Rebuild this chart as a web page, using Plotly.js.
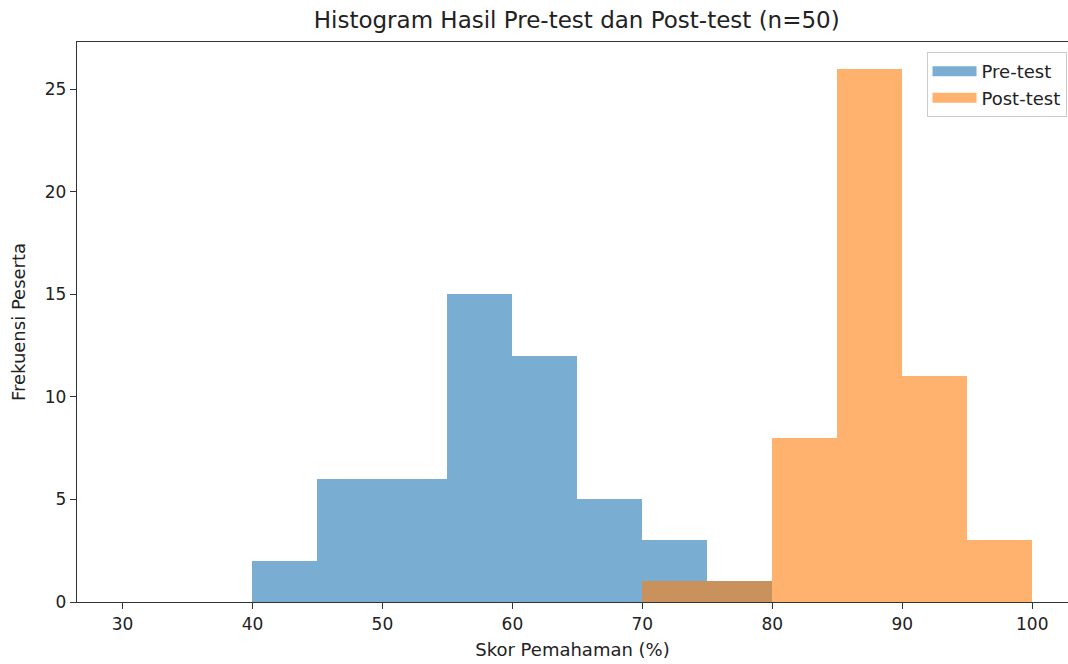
<!DOCTYPE html>
<html>
<head>
<meta charset="utf-8">
<script src="https://cdn.plot.ly/plotly-3.0.1.min.js"></script>
<style>html,body{margin:0;padding:0;background:#fff;}#chart{width:1068px;height:664px;}</style>
</head>
<body>
<div id="chart"></div>
<script>
// Bin left edges (width 5) and counts
var binWidth = 5;
var preBins = [40, 45, 50, 55, 60, 65, 70, 75];
var preCounts = [2, 6, 6, 15, 12, 5, 3, 1];
var postBins = [70, 75, 80, 85, 90, 95];
var postCounts = [1, 1, 8, 26, 11, 3];
var xTicks = [30, 40, 50, 60, 70, 80, 90, 100];
var yTicks = [0, 5, 10, 15, 20, 25];
var seriesNames = ['Pre-test', 'Post-test'];
var seriesColors = ['rgba(31,119,180,0.6)', 'rgba(255,127,14,0.6)'];

function centers(bins){ return bins.map(function(b){ return b + binWidth/2; }); }

var font = 'DejaVu Sans, sans-serif';
var traces = [
  {type:'bar', name:seriesNames[0], x:centers(preBins), y:preCounts, width:binWidth, showlegend:false,
   marker:{color:seriesColors[0], line:{width:0}}},
  {type:'bar', name:seriesNames[1], x:centers(postBins), y:postCounts, width:binWidth, showlegend:false,
   marker:{color:seriesColors[1], line:{width:0}}},
  // legend patches
  {type:'scatter', mode:'lines', name:seriesNames[0], x:[null], y:[null], line:{color:seriesColors[0], width:14}, hoverinfo:'skip'},
  {type:'scatter', mode:'lines', name:seriesNames[1], x:[null], y:[null], line:{color:seriesColors[1], width:14}, hoverinfo:'skip'}
];

var layout = {
  width:1068, height:664,
  margin:{l:77, r:0, t:42, b:62},
  paper_bgcolor:'#fff', plot_bgcolor:'#fff',
  barmode:'overlay', bargap:0,
  font:{family:font, size:17, color:'#222'},
  title:{text:'Histogram Hasil Pre-test dan Post-test (n=50)', x:0.54, xanchor:'center', y:0.97, yanchor:'middle', font:{family:font, size:23, color:'#222'}},
  xaxis:{range:[26.5, 102.75], tickvals:xTicks, ticks:'outside', ticklen:6, tickcolor:'#333', tickwidth:1.2,
    tickfont:{size:17},
    showline:true, linecolor:'#333', linewidth:1.3, mirror:true, showgrid:false, zeroline:false,
    title:{text:'Skor Pemahaman (%)', standoff:10, font:{family:font, size:18, color:'#222'}}},
  yaxis:{range:[0, 27.3], tickvals:yTicks, ticks:'outside', ticklen:6, tickcolor:'#333', tickwidth:1.2,
    tickfont:{size:17},
    showline:true, linecolor:'#333', linewidth:1.3, mirror:false, showgrid:false, zeroline:false,
    title:{text:'Frekuensi Peserta', standoff:14, font:{family:font, size:18, color:'#222'}}},
  legend:{x:0.9985, y:0.982, xanchor:'right', yanchor:'top', bgcolor:'rgba(255,255,255,0.8)',
    bordercolor:'#ccc', borderwidth:1, font:{family:font, size:18, color:'#222'}, tracegroupgap:0,
    itemwidth:44},
  showlegend:true
};

Plotly.newPlot('chart', traces, layout, {displayModeBar:false, responsive:false});
</script>
</body>
</html>
